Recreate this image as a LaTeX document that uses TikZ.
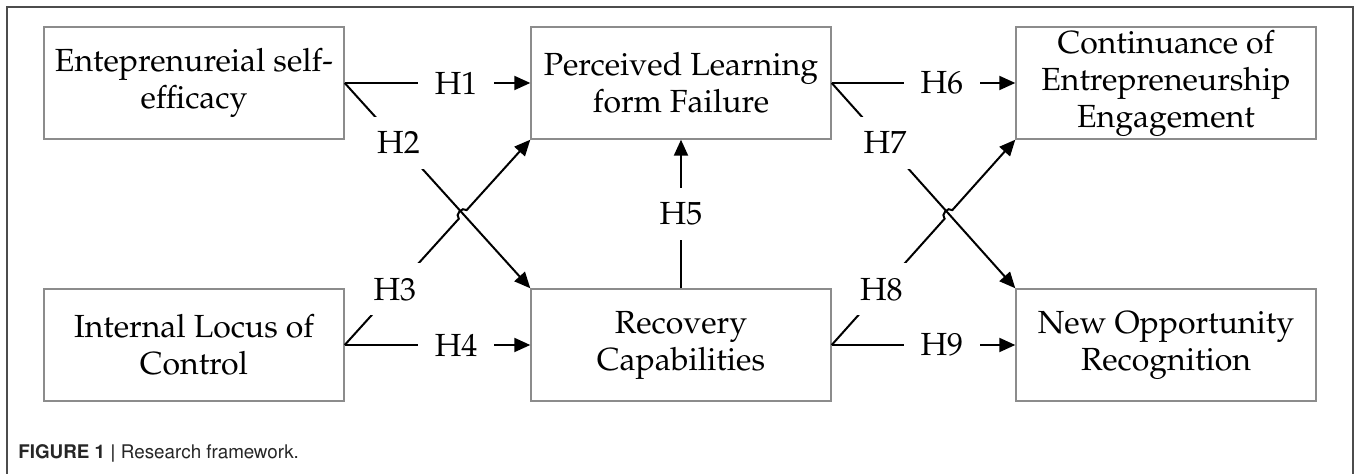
\documentclass[tikz,border=0pt]{standalone}
\usepackage[T1]{fontenc}
\usetikzlibrary{arrows.meta,calc}
\newcommand\boxfont{\fontfamily{ppl}\fontsize{16}{18.5}\selectfont}
\newcommand\capfont{\fontfamily{phv}\fontsize{9.4}{11}\selectfont}
\begin{document}
\begin{tikzpicture}[x=0.5pt,y=-0.5pt,
  box/.style={draw=black!45, line width=0.7pt, minimum width=150pt, minimum height=56pt, inner sep=0pt, align=center, font=\boxfont},
  lab/.style={fill=white, inner sep=0pt, minimum width=38pt, minimum height=26pt, font=\boxfont},
  conn/.style={line width=1pt, -{Triangle[length=8pt,width=7pt]}}]
\useasboundingbox (0,0) rectangle (1357,474);
\draw[black!70, line width=0.8pt] (7,480) -- (7,7) -- (1353,7) -- (1353,480);
% boxes
\node[box] (A) at (194,83) {Enteprenureial self-\\efficacy};
\node[box] (B) at (681,83) {Perceived Learning\\form Failure};
\node[box] (C) at (1166,83) {Continuance of\\Entrepreneurship\\Engagement};
\node[box] (D) at (194,345) {Internal Locus of\\Control};
\node[box] (E) at (681,345) {Recovery\\Capabilities};
\node[box] (F) at (1166,345) {New Opportunity\\Recognition};
% left connectors
\draw[conn] (A.east) -- node[lab,pos=0.6] (h1) {H1} (B.west);
\draw[conn] (A.east) -- node[lab,pos=0.29] (h2) {H2} (E.north west);
\path (D.east) -- (B.south west) coordinate[pos=0.615] (hs3) coordinate[pos=0.657] (he3);
\draw[conn] (D.east) -- node[lab,pos=0.44] (h3) {H3} (hs3) to[bend left=90,looseness=1.3] (he3) -- (B.south west);
\draw[conn] (D.east) -- node[lab,pos=0.6] (h4) {H4} (E.west);
\draw[conn] (E.north) -- node[lab,pos=0.5] (h5) {H5} (B.south);
% right connectors
\draw[conn] (B.east) -- node[lab,pos=0.6] (h6) {H6} (C.west);
\draw[conn] (B.east) -- node[lab,pos=0.29] (h7) {H7} (F.north west);
\path (E.east) -- (C.south west) coordinate[pos=0.615] (hs8) coordinate[pos=0.657] (he8);
\draw[conn] (E.east) -- node[lab,pos=0.44] (h8) {H8} (hs8) to[bend left=90,looseness=1.3] (he8) -- (C.south west);
\draw[conn] (E.east) -- node[lab,pos=0.6] (h9) {H9} (F.west);
% caption
\node[anchor=west, font=\capfont, text=black!85, inner sep=0pt] (cap) at (18,452) {\textbf{FIGURE 1 |} Research framework.};
\end{tikzpicture}
\end{document}
